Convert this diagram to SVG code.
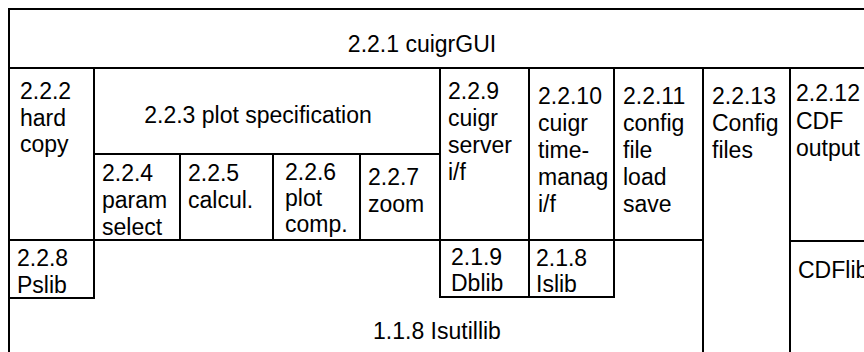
<svg xmlns="http://www.w3.org/2000/svg" width="864" height="352" viewBox="0 0 864 352">
<style>
rect.b{fill:none;stroke:#000;stroke-width:2}
text{font-family:"Liberation Sans",Arial,Helvetica,sans-serif;font-size:23px;fill:#000}
.m{text-anchor:middle}
</style>
<rect x="0" y="0" width="864" height="352" fill="#fff"/>
<g id="cuigrGUI"><rect class="b" x="9" y="9" width="900" height="59"/><text class="m" x="422" y="52">2.2.1 cuigrGUI</text></g>
<g id="hardcopy"><rect class="b" x="9" y="68" width="85" height="172"/><text><tspan x="20" y="99">2.2.2</tspan><tspan x="20" y="126">hard</tspan><tspan x="20" y="152">copy</tspan></text></g>
<g id="plotspec"><rect class="b" x="94" y="68" width="346" height="86"/><text class="m" x="258" y="123">2.2.3 plot specification</text></g>
<g id="paramselect"><rect class="b" x="94" y="154" width="86" height="86"/><text><tspan x="102" y="181">2.2.4</tspan><tspan x="102" y="208">param</tspan><tspan x="102" y="235">select</tspan></text></g>
<g id="calcul"><rect class="b" x="180" y="154" width="93" height="86"/><text><tspan x="188" y="181">2.2.5</tspan><tspan x="188" y="208">calcul.</tspan></text></g>
<g id="plotcomp"><rect class="b" x="273" y="154" width="87" height="86"/><text><tspan x="285" y="180">2.2.6</tspan><tspan x="285" y="206">plot</tspan><tspan x="285" y="232">comp.</tspan></text></g>
<g id="zoom"><rect class="b" x="360" y="154" width="80" height="86"/><text><tspan x="368" y="185">2.2.7</tspan><tspan x="368" y="212">zoom</tspan></text></g>
<g id="serverif"><rect class="b" x="440" y="68" width="89" height="172"/><text><tspan x="448" y="99">2.2.9</tspan><tspan x="448" y="126">cuigr</tspan><tspan x="448" y="153">server</tspan><tspan x="448" y="180">i/f</tspan></text></g>
<g id="timemanag"><rect class="b" x="529" y="68" width="85" height="172"/><text><tspan x="538" y="104">2.2.10</tspan><tspan x="538" y="131">cuigr</tspan><tspan x="538" y="158">time-</tspan><tspan x="538" y="185">manag</tspan><tspan x="538" y="212">i/f</tspan></text></g>
<g id="configfile"><rect class="b" x="614" y="68" width="89" height="172"/><text><tspan x="623" y="104">2.2.11</tspan><tspan x="623" y="131">config</tspan><tspan x="623" y="158">file</tspan><tspan x="623" y="185">load</tspan><tspan x="623" y="212">save</tspan></text></g>
<g id="configfiles"><rect class="b" x="703" y="68" width="87" height="300"/><text><tspan x="712" y="104">2.2.13</tspan><tspan x="712" y="131">Config</tspan><tspan x="712" y="158">files</tspan></text></g>
<g id="cdfoutput"><rect class="b" x="790" y="68" width="120" height="173"/><text><tspan x="796" y="101">2.2.12</tspan><tspan x="796" y="129">CDF</tspan><tspan x="796" y="156">output</tspan></text></g>
<g id="cdflib"><rect class="b" x="790" y="241" width="120" height="130"/><text x="798" y="278">CDFlib</text></g>
<g id="isutillib"><rect class="b" x="9" y="240" width="694" height="130"/><text class="m" x="437" y="339">1.1.8 Isutillib</text></g>
<g id="pslib"><rect class="b" x="9" y="240" width="85" height="58"/><text><tspan x="17" y="266">2.2.8</tspan><tspan x="17" y="293">Pslib</tspan></text></g>
<g id="dblib"><rect class="b" x="440" y="240" width="89" height="57"/><text><tspan x="451" y="265">2.1.9</tspan><tspan x="451" y="291">Dblib</tspan></text></g>
<g id="islib"><rect class="b" x="529" y="240" width="85" height="57"/><text><tspan x="536" y="266">2.1.8</tspan><tspan x="536" y="292">Islib</tspan></text></g>
<g id="connectors"></g>
</svg>
